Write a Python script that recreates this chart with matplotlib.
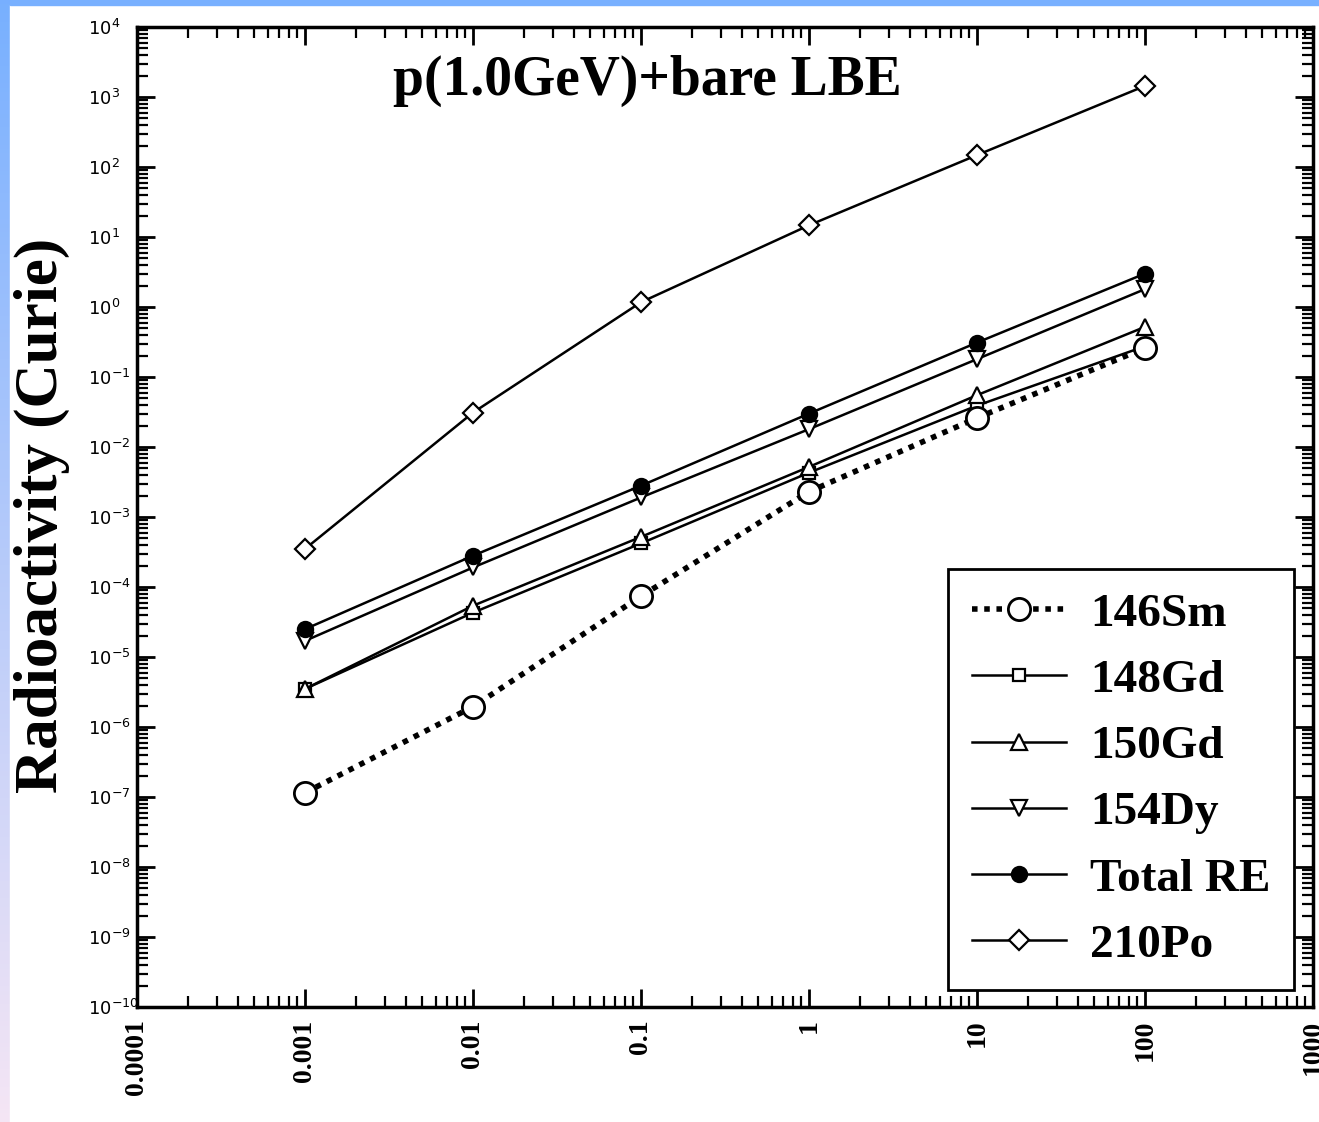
import matplotlib.pyplot as plt
import numpy as np
from matplotlib.ticker import LogLocator, FixedLocator, NullFormatter

plt.rcParams["font.family"] = ["Liberation Serif", "DejaVu Serif"]

# energie / dati
x = [0.001, 0.01, 0.1, 1, 10, 100]
sm146 = [1.15e-7, 1.95e-6, 7.4e-5, 2.3e-3, 0.026, 0.26]
gd148 = [3.5e-6, 4.3e-5, 4.2e-4, 4.3e-3, 0.039, 0.275]
gd150 = [3.5e-6, 5.4e-5, 5.2e-4, 5.2e-3, 0.055, 0.52]
dy154 = [1.7e-5, 1.9e-4, 1.9e-3, 0.018, 0.18, 1.8]
totRE = [2.5e-5, 2.8e-4, 2.8e-3, 0.030, 0.31, 3.0]
po210 = [3.5e-4, 0.031, 1.17, 14.7, 148, 1440]

xticks = [0.0001, 0.001, 0.01, 0.1, 1, 10, 100, 1000]
xlabels = ["0.0001", "0.001", "0.01", "0.1", "1", "10", "100", "1000"]
yexp = list(range(-10, 5))

W, H = 1319, 1122
fig = plt.figure(figsize=(W / 100, H / 100), dpi=100)

# bordo sfumato blu
bg = fig.add_axes([0, 0, 1, 1])
grad = np.linspace(0, 1, 256).reshape(-1, 1)
top = np.array([0.47, 0.69, 1.0])
bot = np.array([0.96, 0.90, 0.96])
img = top[None, None, :] * (1 - grad[:, :, None]) + bot[None, None, :] * grad[:, :, None]
bg.imshow(img, aspect="auto", extent=[0, 1, 0, 1])
bg.add_patch(plt.Rectangle((10 / W, 0), 1, 1 - 5 / H, color="white"))
bg.add_patch(plt.Rectangle((10 / W, 1 - 5 / H), 1, 5 / H, color=top))
bg.set_xlim(0, 1)
bg.set_ylim(0, 1)
bg.axis("off")

ax = fig.add_axes([137 / W, 1 - 1007 / H, (1313 - 137) / W, (1007 - 27) / H])
ax.set_xscale("log")
ax.set_yscale("log")
ax.set_xlim(1e-4, 1e3)
ax.set_ylim(1e-10, 1e4)

lw = 1.8
ax.plot(x, sm146, color="black", linestyle=(0, (1, 1.2)), linewidth=4, marker="o", markersize=16,
        markerfacecolor="white", markeredgewidth=2, label="146Sm", zorder=3)
ax.plot(x, gd148, color="black", linewidth=lw, marker="s", markersize=9,
        markerfacecolor="white", markeredgewidth=1.6, label="148Gd")
ax.plot(x, gd150, color="black", linewidth=lw, marker="^", markersize=11,
        markerfacecolor="white", markeredgewidth=1.6, label="150Gd")
ax.plot(x, dy154, color="black", linewidth=lw, marker="v", markersize=11,
        markerfacecolor="white", markeredgewidth=1.6, label="154Dy")
ax.plot(x, totRE, color="black", linewidth=lw, marker="o", markersize=11,
        markerfacecolor="black", markeredgewidth=1.5, label="Total RE")
ax.plot(x, po210, color="black", linewidth=lw, marker="D", markersize=10,
        markerfacecolor="white", markeredgewidth=1.6, label="210Po")

ax.set_xticks(xticks)
ax.set_xticklabels(xlabels, rotation=90, fontsize=20, fontweight="bold", va="top")
ax.xaxis.set_minor_locator(LogLocator(base=10, subs=np.arange(2, 10), numticks=20))
ax.xaxis.set_minor_formatter(NullFormatter())

ax.yaxis.set_major_locator(FixedLocator([10.0 ** e for e in yexp]))
ax.set_yticklabels(["$10^{%d}$" % e for e in yexp], fontsize=13, family="DejaVu Sans", ha="left")
ax.yaxis.set_minor_locator(LogLocator(base=10, subs=np.arange(2, 10), numticks=30))
ax.yaxis.set_minor_formatter(NullFormatter())

ax.tick_params(which="both", direction="in", top=True, right=True, color="black")
ax.tick_params(which="major", length=13, width=2, pad=9)
ax.tick_params(which="minor", length=8, width=1.6)
ax.tick_params(axis="y", which="major", pad=35)
for s in ax.spines.values():
    s.set_linewidth(2.5)

fig.text(42 / W, 1 - 515 / H, "Radioactivity (Curie)", rotation=90, ha="center", va="center",
         fontsize=44, fontweight="bold")
ax.text(0.434, 0.945, "p(1.0GeV)+bare LBE", transform=ax.transAxes, ha="center", va="center",
        fontsize=40, fontweight="bold")

leg = ax.legend(loc="lower right", bbox_to_anchor=(0.984, 0.017), borderaxespad=0,
                prop={"weight": "bold", "size": 34}, fancybox=False, framealpha=1,
                edgecolor="black", handlelength=2.0, handletextpad=0.5, labelspacing=0.49,
                borderpad=0.5)
leg.get_frame().set_linewidth(2)

plt.savefig("out.png", dpi=100)
